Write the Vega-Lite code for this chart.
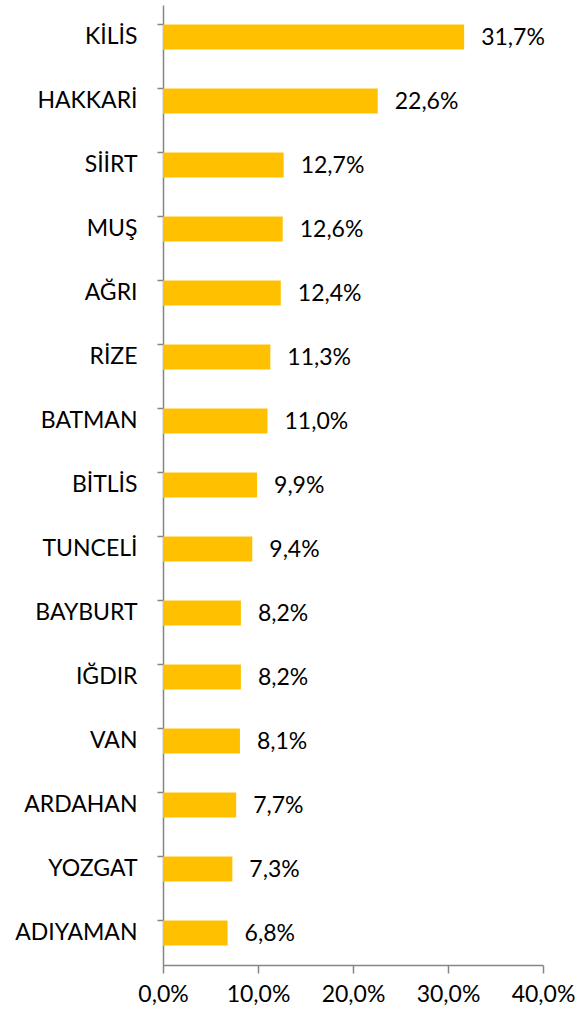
{
  "$schema": "https://vega.github.io/schema/vega-lite/v6.json",
  "width": 380,
  "height": 960,
  "autosize": "none",
  "padding": {"left": 163, "top": 5, "right": 41, "bottom": 48},
  "background": "white",
  "config": {
    "view": {"stroke": null},
    "font": "Lato",
    "locale": {"number": {"decimal": ",", "thousands": ".", "grouping": [3], "currency": ["", " ₺"]}}
  },
  "data": {
    "values": [
      {"il": "KİLİS", "oran": 0.317},
      {"il": "HAKKARİ", "oran": 0.226},
      {"il": "SİİRT", "oran": 0.127},
      {"il": "MUŞ", "oran": 0.126},
      {"il": "AĞRI", "oran": 0.124},
      {"il": "RİZE", "oran": 0.113},
      {"il": "BATMAN", "oran": 0.110},
      {"il": "BİTLİS", "oran": 0.099},
      {"il": "TUNCELİ", "oran": 0.094},
      {"il": "BAYBURT", "oran": 0.082},
      {"il": "IĞDIR", "oran": 0.082},
      {"il": "VAN", "oran": 0.081},
      {"il": "ARDAHAN", "oran": 0.077},
      {"il": "YOZGAT", "oran": 0.073},
      {"il": "ADIYAMAN", "oran": 0.068}
    ]
  },
  "encoding": {
    "y": {
      "field": "il", "type": "nominal", "sort": null,
      "scale": {"paddingInner": 0.61, "paddingOuter": 0.305},
      "axis": {
        "title": null, "bandPosition": 0, "domainColor": "#868686", "tickColor": "#868686",
        "tickSize": 6, "labelPadding": 20, "labelFontSize": 23, "labelColor": "#000000",
        "labelFont": "Lato", "domainWidth": 1.5, "tickWidth": 1.5
      }
    },
    "x": {
      "field": "oran", "type": "quantitative",
      "scale": {"domain": [0, 0.4], "nice": false},
      "axis": {
        "title": null, "format": ".1%", "values": [0, 0.1, 0.2, 0.3, 0.4], "grid": false,
        "labelOverlap": false, "labelBound": false, "labelFlush": false,
        "domainColor": "#868686", "tickColor": "#868686", "tickSize": 8, "labelPadding": 10,
        "labelFontSize": 23, "labelColor": "#000000", "labelFont": "Lato",
        "domainWidth": 1.5, "tickWidth": 1.5
      }
    }
  },
  "layer": [
    {"mark": {"type": "bar", "color": "#FFC000"}},
    {
      "mark": {"type": "text", "align": "left", "baseline": "middle", "dx": 17, "dy": 1, "fontSize": 23, "color": "#000000", "font": "Lato"},
      "encoding": {"text": {"field": "oran", "type": "quantitative", "format": ".1%"}}
    }
  ]
}
